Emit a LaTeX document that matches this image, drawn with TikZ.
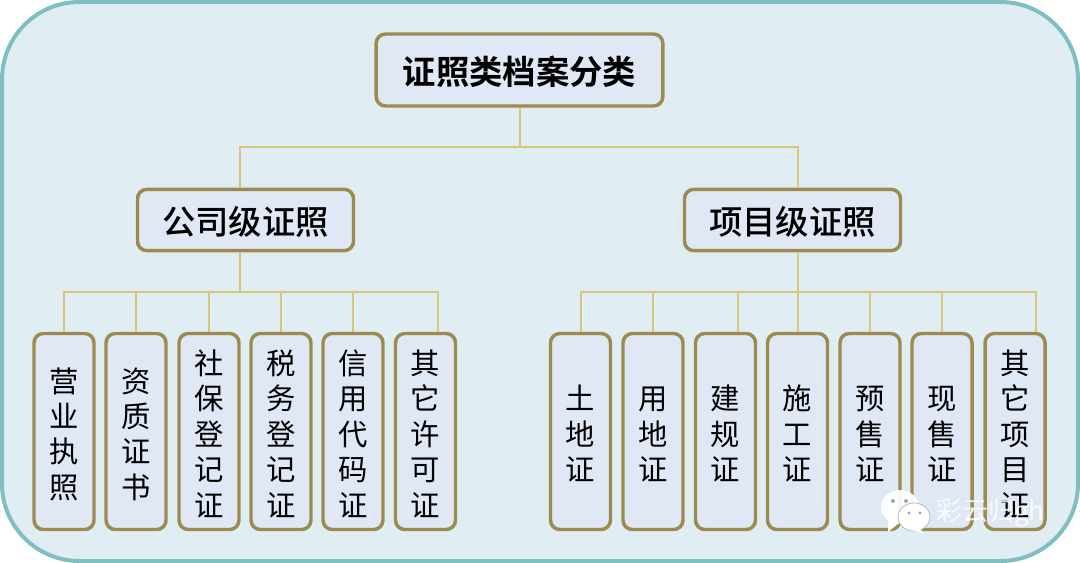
\documentclass[tikz,border=0pt]{standalone}
\usepackage{fontspec}
\setmainfont{Noto Sans CJK SC}
\newfontfamily\cjkbold{Noto Sans CJK SC Bold}
\newfontfamily\cjkmed{Noto Sans CJK SC Medium}
\usetikzlibrary{calc}
\definecolor{panelfill}{HTML}{E0EEF4}
\definecolor{panelline}{HTML}{7FBFC1}
\definecolor{boxfill}{HTML}{E0E7F5}
\definecolor{boxline}{HTML}{9C8B4F}
\definecolor{linkline}{HTML}{D9C67A}
\newcommand{\lowertext}[1]{\raisebox{-1.5pt}[\height][\depth]{#1}}
\tikzset{
  x=0.75pt,y=-0.75pt,
  panel/.style={draw=panelline,fill=panelfill,line width=3pt,rounded corners=58pt},
  basebox/.style={draw=boxline,fill=boxfill,line width=2.6pt,rounded corners=7pt,inner sep=0pt,align=center,text=black},
  topbox/.style={basebox,minimum width=215pt,minimum height=54pt,font=\cjkbold\fontsize{25pt}{28pt}\selectfont},
  midbox/.style={basebox,minimum width=162pt,minimum height=46pt,font=\cjkmed\fontsize{25pt}{28pt}\selectfont},
  leafbox/.style={basebox,minimum width=45pt,minimum height=147pt,font=\fontsize{22pt}{26.6pt}\selectfont},
  link/.style={draw=linkline,line width=1.5pt},
  mark text/.style={text=white,opacity=.85,font=\fontsize{19.5pt}{22pt}\selectfont,inner sep=0pt,anchor=west}
}
\begin{document}
\begin{tikzpicture}
\useasboundingbox (0,0) rectangle (1080,563);
\fill[white] (0,0) rectangle (1080,563);
\draw[panel] (2,2) rectangle (1078,561);

\coordinate (busroot) at (519.5,147);
\coordinate (busco) at (240,292);
\coordinate (buspr) at (798,292);

\node[topbox] (root) at (519.5,70) {\lowertext{证照类档案分类}};
\node[midbox] (co) at (245.5,220) {\lowertext{公司级证照}};
\node[midbox] (pr) at (792.5,220) {\lowertext{项目级证照}};

\foreach \nm/\cx/\tx in {
  a1/64/营\\业\\执\\照,
  a2/136/资\\质\\证\\书,
  a3/209/社\\保\\登\\记\\证,
  a4/281/税\\务\\登\\记\\证,
  a5/353/信\\用\\代\\码\\证,
  a6/425.5/其\\它\\许\\可\\证,
  b1/580.5/土\\地\\证,
  b2/653/用\\地\\证,
  b3/725.5/建\\规\\证,
  b4/797.5/施\\工\\证,
  b5/870/预\\售\\证,
  b6/942/现\\售\\证,
  b7/1015/其\\它\\项\\目\\证}{
  \node[leafbox,text depth=0pt] (\nm) at (\cx,431.5) {\rule{0pt}{3pt}\\[-9pt]\tx};
}

\draw[link] (root.south) -- (busroot);
\draw[link] (co.north -| busco) |- (busroot) -| (pr.north -| buspr);
\draw[link] (co.south -| busco) -- (busco);
\draw[link] (pr.south -| buspr) -- (buspr);
\draw[link] (a1.north) |- (busco) -- ([xshift=9pt]a6.north |- busco) -- ([xshift=9pt]a6.north);
\foreach \nm in {a2,a3,a4,a5}{ \draw[link] (\nm.north) -- (\nm.north |- busco); }
\draw[link] (b1.north) |- (buspr) -- ([xshift=15.75pt]b7.north |- buspr) -- ([xshift=15.75pt]b7.north);
\foreach \nm/\dx in {b2/0,b3/9,b4/0,b5/0,b6/0}{ \draw[link] ([xshift=\dx pt]\nm.north) -- ([xshift=\dx pt]\nm.north |- buspr); }

% watermark
\begin{scope}[opacity=.92]
\fill[white] (900,507) ellipse (19 and 17);
\fill[white] (888,520) -- (888,532) -- (899,523) -- cycle;
\end{scope}
\fill[white,draw=gray!55,line width=.6pt] (914,517) ellipse (16 and 14);
\fill[white] (919,527) -- (924,534) -- (913,530) -- cycle;
\fill[gray!70] (893,501) circle (2);
\fill[gray!70] (906,501) circle (2);
\fill[gray!70] (909,513) circle (1.6);
\fill[gray!70] (920,513) circle (1.6);
\node[mark text] (mark) at (936,513) {彩云归gh};
\end{tikzpicture}
\end{document}
